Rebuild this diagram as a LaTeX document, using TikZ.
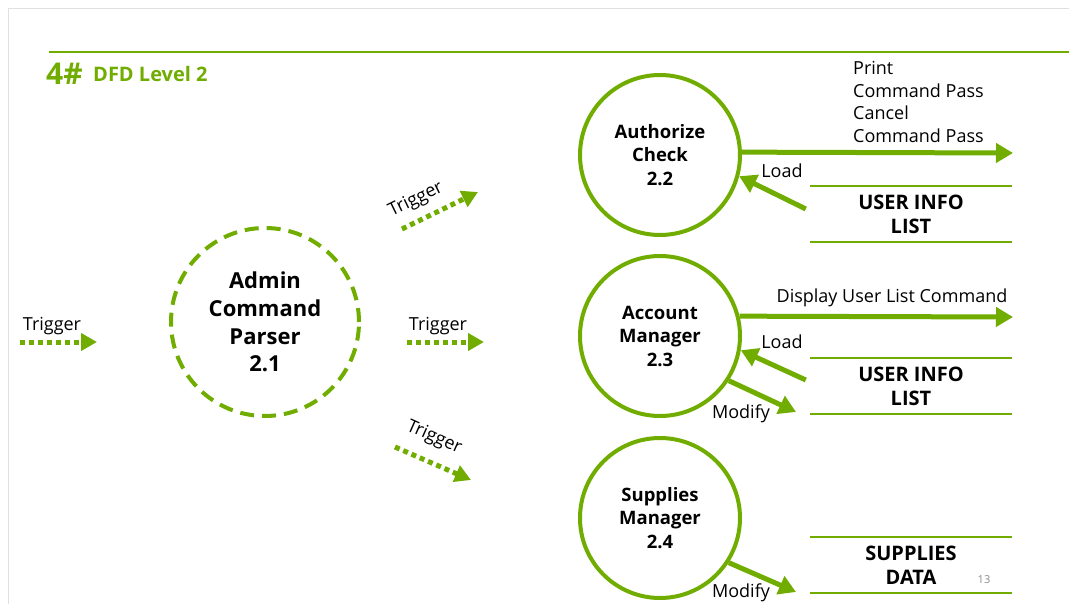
\documentclass[tikz,border=0pt]{standalone}
\usepackage{fontspec}
\setmainfont{Open Sans}
\usetikzlibrary{arrows.meta,calc}
\definecolor{dfdgreen}{RGB}{112,173,0}
\begin{document}
\begin{tikzpicture}[x=1pt,y=-1pt,
  proc/.style={circle, draw=dfdgreen, line width=4pt, minimum size=160pt, inner sep=0pt, align=center,
    font=\bfseries\fontsize{18.5}{23.5}\selectfont},
  mainproc/.style={proc, minimum size=188pt, dash pattern=on 14pt off 8pt,
    font=\bfseries\fontsize{22}{27.7}\selectfont},
  flow/.style={draw=dfdgreen, line width=5pt, -{Triangle[length=17pt,width=19pt]}},
  trig/.style={draw=dfdgreen, line width=5pt, dash pattern=on 5pt off 4pt, -{Triangle[length=16pt,width=17pt]}},
  lbl/.style={font=\fontsize{18}{22.7}\selectfont, inner sep=0pt},
  store/.style={minimum width=202pt, minimum height=56pt, inner sep=0pt, align=center,
    font=\bfseries\fontsize{20}{24}\selectfont},
  storeline/.style={draw=dfdgreen, line width=2.5pt}
]
\useasboundingbox (0,0) rectangle (1069,604);
% slide frame
\draw[black!12, line width=1pt] (8,604) -- (8,9) -- (1069,9);
\draw[dfdgreen, line width=2pt] (49,52) -- (1069,52);
\node[anchor=base west, text=dfdgreen, inner sep=0pt, font=\bfseries\fontsize{30}{30}\selectfont] (num) at (46,85) {4\#};
\node[anchor=base west, text=dfdgreen, inner sep=0pt, font=\bfseries\fontsize{20}{20}\selectfont] (title) at (93,82) {DFD Level 2};

% processes
\node[mainproc] (admin) at (265,322) {Admin\\Command\\Parser\\2.1};
\node[proc] (auth) at (660,155) {Authorize\\Check\\2.2};
\node[proc] (acct) at (660,336) {Account\\Manager\\2.3};
\node[proc] (supp) at (660,518) {Supplies\\Manager\\2.4};

% stores
\node[store] (uil1) at (911,214) {USER INFO\\LIST};
\node[store] (uil2) at (911,386) {USER INFO\\LIST};
\node[store] (sdata) at (911,565) {SUPPLIES\\DATA};
\foreach \s in {uil1,uil2,sdata}{
  \draw[storeline] (\s.north west) -- (\s.north east);
  \draw[storeline] (\s.south west) -- (\s.south east);
}

% trigger arrows
\coordinate (t0a) at (20,342); \coordinate (t0b) at (97,342);
\draw[trig] (t0a) -- (t0b);
\node[lbl] (t0l) at (52,326) {Trigger};
\coordinate (t1a) at (402,229); \coordinate (t1b) at (478,192);
\draw[trig] (t1a) -- (t1b);
\node[lbl, rotate=26] (t1l) at (416,200) {Trigger};
\coordinate (t2a) at (407,342); \coordinate (t2b) at (484,342);
\draw[trig] (t2a) -- (t2b);
\node[lbl] (t2l) at (438,326) {Trigger};
\coordinate (t3a) at (395,447); \coordinate (t3b) at (471,480);
\draw[trig] (t3a) -- (t3b);
\node[lbl, rotate=-24] (t3l) at (434,438) {Trigger};

% authorize check flows
\coordinate (authout) at (1013,153);
\draw[flow] (auth.2) -- (authout);
\node[lbl, anchor=north west, align=left] (authoutl) at (853,61) {Print\\Command Pass\\Cancel\\Command Pass};
\draw[flow] ($(uil1.west)+(-4,-5)$) -- (auth.-15);
\node[lbl] (load1) at (782,171) {Load};

% account manager flows
\coordinate (acctout) at (1013,317);
\draw[flow] (acct.14) -- (acctout);
\node[lbl] (acctoutl) at (892,298) {Display User List Command};
\draw[flow] ($(uil2.west)+(-4,-6)$) -- (acct.-10);
\node[lbl] (load2) at (782,342) {Load};
\coordinate (mod1) at (796,412);
\draw[flow] (acct.-33) -- (mod1);
\node[lbl] (mod1l) at (741,414) {Modify};

% supplies manager flows
\coordinate (mod2) at (796,592);
\draw[flow] (supp.-33) -- (mod2);
\node[lbl] (mod2l) at (741,593) {Modify};

\node[text=black!45, inner sep=0pt, font=\fontsize{11}{11}\selectfont] (pg) at (984,580) {13};
\end{tikzpicture}
\end{document}
